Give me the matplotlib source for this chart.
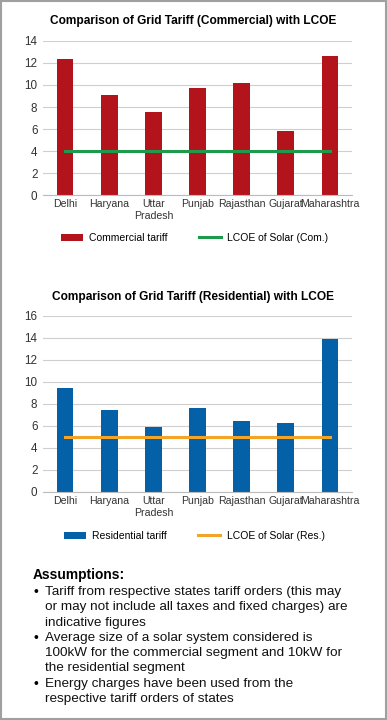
import matplotlib
matplotlib.use("Agg")
import matplotlib.pyplot as plt
from matplotlib.patches import Rectangle

states = ["Delhi", "Haryana", "Uttar\nPradesh", "Punjab", "Rajasthan", "Gujarat", "Maharashtra"]
commercial = [12.4, 9.1, 7.55, 9.75, 10.2, 5.8, 12.6]
residential = [9.5, 7.5, 5.95, 7.6, 6.5, 6.25, 13.95]
lcoe_com = 4
lcoe_res = 5

assumptions = [
    ("Tariff from respective states tariff orders (this may",
     "or may not include all taxes and fixed charges) are",
     "indicative figures"),
    ("Average size of a solar system considered is",
     "100kW for the commercial segment and 10kW for",
     "the residential segment"),
    ("Energy charges have been used from the",
     "respective tariff orders of states"),
]

W, H = 387, 720
sans = ["Liberation Sans", "DejaVu Sans"]
fig = plt.figure(figsize=(W / 100, H / 100), dpi=100, facecolor="white")


def px_axes(left, top, right, bottom):
    return fig.add_axes([left / W, 1 - bottom / H, (right - left) / W, (bottom - top) / H])


def draw(ax, values, lcoe, ymax, bar_color, line_color, bar_label, line_label, title, title_y, leg_y):
    x = list(range(len(states)))
    bars = ax.bar(x, values, width=0.38, color=bar_color, label=bar_label, zorder=2)
    line, = ax.plot([x[0], x[-1]], [lcoe, lcoe], color=line_color, lw=2.2, label=line_label, zorder=3)
    ax.set_xlim(-0.5, len(states) - 0.5)
    ax.set_ylim(0, ymax)
    ax.set_yticks(range(0, ymax + 1, 2))
    ax.grid(axis="y", color="#cfcfcf", lw=0.8, zorder=0)
    for s in ["top", "right", "left"]:
        ax.spines[s].set_visible(False)
    ax.spines["bottom"].set_color("#bbbbbb")
    ax.spines["bottom"].set_linewidth(0.8)
    ax.tick_params(axis="x", length=0, labelsize=7.6, colors="#333333", pad=3)
    ax.tick_params(axis="y", length=0, labelsize=8.4, colors="#333333", pad=4)
    ax.set_xticks(x)
    ax.set_xticklabels(states, linespacing=1.2)
    for lab in ax.get_xticklabels() + ax.get_yticklabels():
        lab.set_family(sans)
    ax.legend([bars, line], [bar_label, line_label], loc="center",
              bbox_to_anchor=(0.49, leg_y), ncol=2,
              frameon=False, prop={"family": sans, "size": 7.5},
              handlelength=2.1, columnspacing=3.0, handletextpad=0.6)
    fig.text(0.5, 1 - title_y / H, title, ha="center", va="center",
             fontsize=8.6, fontweight="bold", family=sans)


ax1 = px_axes(43, 41, 352, 195)
draw(ax1, commercial, lcoe_com, 14, "#b3141c", "#1f9a4c", "Commercial tariff",
     "LCOE of Solar (Com.)", "Comparison of Grid Tariff (Commercial) with LCOE", 21,
     (195 - 238) / 154)

ax2 = px_axes(43, 316, 352, 492)
draw(ax2, residential, lcoe_res, 16, "#0461a8", "#f3a52a", "Residential tariff",
     "LCOE of Solar (Res.)", "Comparison of Grid Tariff (Residential) with LCOE", 297,
     (492 - 536) / 176)

fig.text(33 / W, 1 - 575 / H, "Assumptions:", fontsize=9.9, fontweight="bold",
         family=sans, va="center")
y = 592
for item in assumptions:
    fig.text(34 / W, 1 - y / H, "\u2022", fontsize=9.8, family=sans, va="center")
    for line in item:
        fig.text(45 / W, 1 - y / H, line, fontsize=9.7, family=sans, va="center", color="#111111")
        y += 15.3

fig.patches.append(Rectangle((0.002, 0.002), 0.996, 0.996, transform=fig.transFigure,
                             fill=False, edgecolor="#a0a0a0", lw=1.5))

fig.savefig("out.png", dpi=100, facecolor="white")
